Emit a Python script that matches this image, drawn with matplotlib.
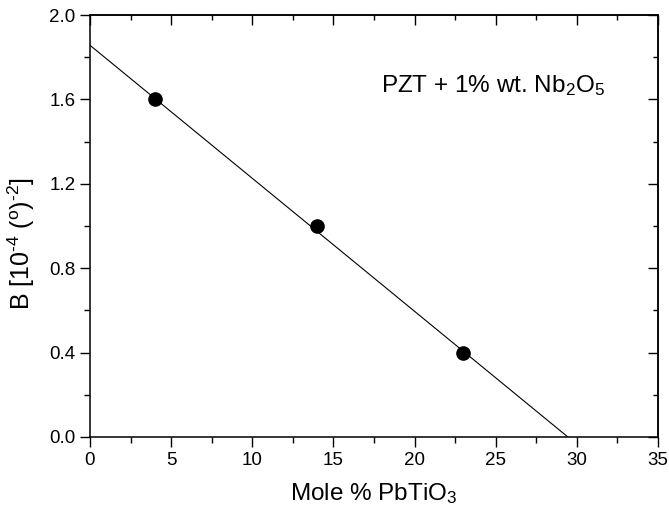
import matplotlib
matplotlib.use("Agg")
import matplotlib.pyplot as plt
from matplotlib.ticker import MultipleLocator, FormatStrFormatter

plt.rcParams['font.family'] = ['Liberation Sans', 'DejaVu Sans']
plt.rcParams['mathtext.fontset'] = 'custom'
plt.rcParams['mathtext.rm'] = 'Liberation Sans'
plt.rcParams['mathtext.it'] = 'Liberation Sans'
plt.rcParams['mathtext.bf'] = 'Liberation Sans'

mole_pct = [4, 14, 23]
B_values = [1.6, 1.0, 0.4]
fit_x = [0, 29.45]
fit_y = [1.857, 0.0]

fig = plt.figure(figsize=(6.69, 5.12), dpi=100)
ax = fig.add_axes([0.1345, 0.1465, 0.849, 0.824])

ax.plot(fit_x, fit_y, color='black', lw=0.8)
ax.plot(mole_pct, B_values, 'o', color='black', markersize=9.5)

ax.set_xlim(0, 35)
ax.set_ylim(0, 2.0)
ax.xaxis.set_major_locator(MultipleLocator(5))
ax.xaxis.set_minor_locator(MultipleLocator(2.5))
ax.yaxis.set_major_locator(MultipleLocator(0.4))
ax.yaxis.set_minor_locator(MultipleLocator(0.2))
ax.yaxis.set_major_formatter(FormatStrFormatter('%.1f'))

for s in ax.spines.values():
    s.set_linewidth(1.1)

ax.tick_params(which='both', direction='out', top=False, right=False, labelsize=13.5, width=1.0)
ax.tick_params(which='major', length=7)
ax.tick_params(which='minor', length=4)

axt = ax.secondary_xaxis('top')
axt.xaxis.set_major_locator(MultipleLocator(5))
axt.xaxis.set_minor_locator(MultipleLocator(2.5))
axt.tick_params(which='both', direction='in', labeltop=False, width=1.0)
axt.tick_params(which='major', length=7)
axt.tick_params(which='minor', length=3.5)
axt.spines['top'].set_linewidth(1.1)
axr = ax.secondary_yaxis('right')
axr.yaxis.set_major_locator(MultipleLocator(0.4))
axr.yaxis.set_minor_locator(MultipleLocator(0.2))
axr.tick_params(which='both', direction='in', labelright=False, width=1.0)
axr.tick_params(which='major', length=7)
axr.tick_params(which='minor', length=3.5)
axr.spines['right'].set_linewidth(1.1)

ax.set_xlabel('Mole % PbTiO$_{3}$', fontsize=17.5, labelpad=9)
ax.set_ylabel('B [10$^{\u20104}$ ($^{o}$)$^{\u20102}$]', fontsize=18)
ax.yaxis.set_label_coords(-0.093, 0.458)
ax.text(0.907, 0.834, 'PZT + 1% wt. Nb$_{2}$O$_{5}$', transform=ax.transAxes,
        fontsize=17.5, ha='right', va='center')

fig.savefig('out.png', dpi=100)
